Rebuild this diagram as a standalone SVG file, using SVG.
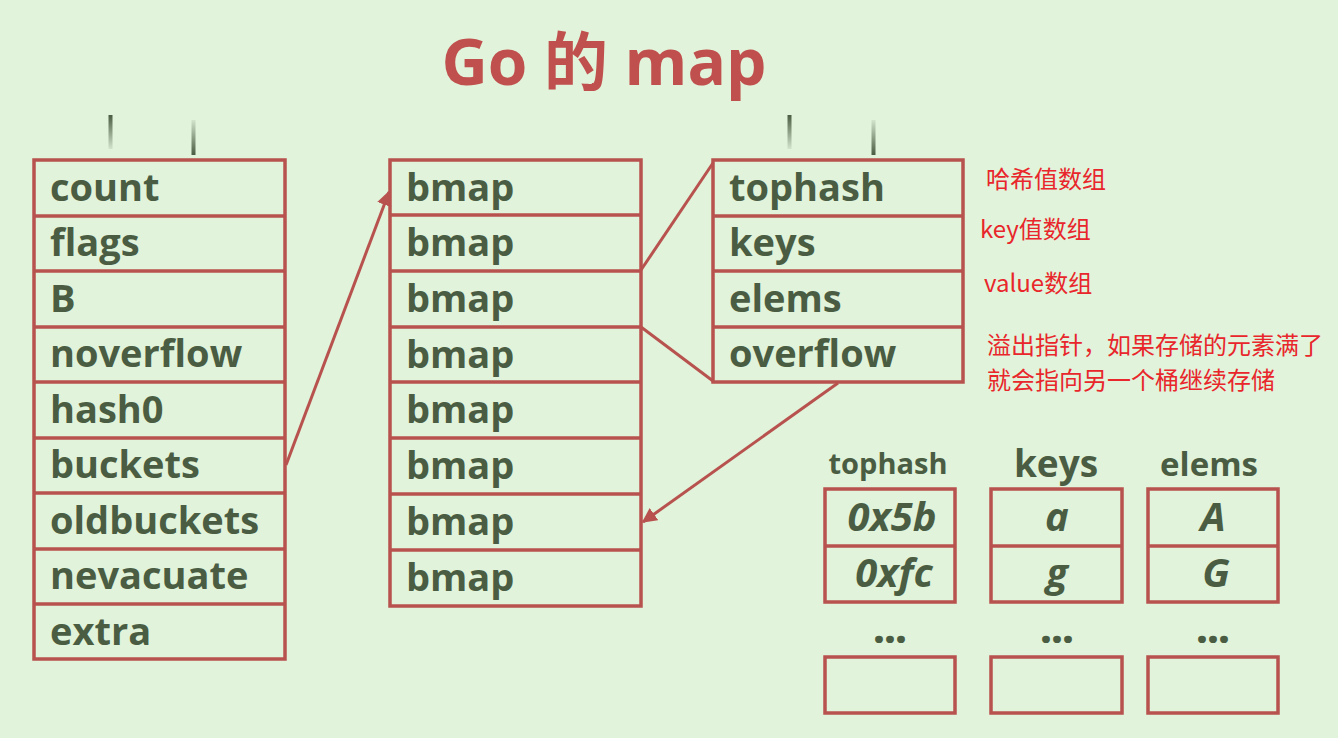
<svg xmlns="http://www.w3.org/2000/svg" width="1338" height="738" viewBox="0 0 1338 738">
<style>
.bg{fill:#e1f3da}
.box{fill:none;stroke:#b8524e;stroke-width:3.5}
.div{stroke:#b8524e;stroke-width:3.5}
.lbl{font-family:"Open Sans","Noto Sans",sans-serif;font-weight:700;font-size:38px;fill:#4a5d43}
.val{font-family:"Open Sans","Noto Sans",sans-serif;font-weight:700;font-style:italic;font-size:40px;fill:#4a5d43;text-anchor:middle}
.hdr{font-family:"Open Sans","Noto Sans",sans-serif;font-weight:700;fill:#4a5d43;text-anchor:middle}
.dots{font-family:"Open Sans","Noto Sans",sans-serif;font-weight:800;font-size:38px;fill:#4a5d43;text-anchor:middle}
.note{font-family:"Noto Sans CJK SC","Noto Sans",sans-serif;font-size:24px;fill:#e8262b}
.conn{stroke:#b8524e;stroke-width:3;fill:none}
</style>
<defs>
<marker id="arr" viewBox="0 0 10 10" refX="9" refY="5" markerWidth="5" markerHeight="5" orient="auto" markerUnits="strokeWidth">
<path d="M0,0 L10,5 L0,10 z" fill="#b8524e"/>
</marker>
<linearGradient id="fadeA" x1="0" y1="0" x2="0" y2="1"><stop offset="0" stop-color="#4a5d43"/><stop offset="1" stop-color="#4a5d43" stop-opacity="0.1"/></linearGradient>
<linearGradient id="fadeB" x1="0" y1="0" x2="0" y2="1"><stop offset="0" stop-color="#4a5d43" stop-opacity="0.1"/><stop offset="1" stop-color="#4a5d43"/></linearGradient>
</defs>
<rect class="bg" x="0" y="0" width="1338" height="738"/>

<g id="title">
<text x="604" y="85" text-anchor="middle" style="font-family:'Open Sans','Noto Sans CJK SC',sans-serif;font-weight:700;font-size:64px;fill:#c0504d">Go 的 map</text>
</g>

<g id="ticks">
<rect x="108.5" y="115" width="4" height="34" fill="url(#fadeA)"/>
<rect x="191.5" y="120" width="4" height="35" fill="url(#fadeB)"/>
<rect x="787.5" y="115" width="4" height="34" fill="url(#fadeA)"/>
<rect x="871.5" y="120" width="4" height="35" fill="url(#fadeB)"/>
</g>

<g id="hmap">
<rect class="box" x="34" y="160" width="251" height="499"/>
<line class="div" x1="34" y1="216" x2="285" y2="216"/>
<line class="div" x1="34" y1="271" x2="285" y2="271"/>
<line class="div" x1="34" y1="327" x2="285" y2="327"/>
<line class="div" x1="34" y1="382" x2="285" y2="382"/>
<line class="div" x1="34" y1="438" x2="285" y2="438"/>
<line class="div" x1="34" y1="493" x2="285" y2="493"/>
<line class="div" x1="34" y1="549" x2="285" y2="549"/>
<line class="div" x1="34" y1="604" x2="285" y2="604"/>
<text class="lbl" x="50" y="201">count</text>
<text class="lbl" x="50" y="256">flags</text>
<text class="lbl" x="50" y="312">B</text>
<text class="lbl" x="50" y="367">noverflow</text>
<text class="lbl" x="50" y="423">hash0</text>
<text class="lbl" x="50" y="478">buckets</text>
<text class="lbl" x="50" y="534">oldbuckets</text>
<text class="lbl" x="50" y="589">nevacuate</text>
<text class="lbl" x="50" y="645">extra</text>
</g>

<g id="buckets">
<rect class="box" x="390" y="160" width="251" height="446"/>
<line class="div" x1="390" y1="215" x2="641" y2="215"/>
<line class="div" x1="390" y1="271" x2="641" y2="271"/>
<line class="div" x1="390" y1="327" x2="641" y2="327"/>
<line class="div" x1="390" y1="382" x2="641" y2="382"/>
<line class="div" x1="390" y1="438" x2="641" y2="438"/>
<line class="div" x1="390" y1="494" x2="641" y2="494"/>
<line class="div" x1="390" y1="550" x2="641" y2="550"/>
<text class="lbl" x="406" y="201">bmap</text>
<text class="lbl" x="406" y="256">bmap</text>
<text class="lbl" x="406" y="312">bmap</text>
<text class="lbl" x="406" y="368">bmap</text>
<text class="lbl" x="406" y="423">bmap</text>
<text class="lbl" x="406" y="479">bmap</text>
<text class="lbl" x="406" y="535">bmap</text>
<text class="lbl" x="406" y="591">bmap</text>
</g>

<g id="bmap">
<rect class="box" x="713" y="160" width="250" height="222"/>
<line class="div" x1="713" y1="216" x2="963" y2="216"/>
<line class="div" x1="713" y1="271" x2="963" y2="271"/>
<line class="div" x1="713" y1="327" x2="963" y2="327"/>
<text class="lbl" x="729" y="201">tophash</text>
<text class="lbl" x="729" y="256">keys</text>
<text class="lbl" x="729" y="312">elems</text>
<text class="lbl" x="729" y="367">overflow</text>
</g>

<g id="notes">
<text class="note" x="986" y="188">哈希值数组</text>
<text class="note" x="980" y="238">key值数组</text>
<text class="note" x="984" y="292">value数组</text>
<text class="note" x="987" y="354">溢出指针，如果存储的元素满了</text>
<text class="note" x="987" y="389">就会指向另一个桶继续存储</text>
</g>

<g id="tophash-array">
<text class="hdr" x="888" y="474" style="font-size:29px">tophash</text>
<rect class="box" x="825" y="489" width="130" height="113"/>
<line class="div" x1="825" y1="546" x2="955" y2="546"/>
<text class="val" x="892" y="531">0x5b</text>
<text class="val" x="894" y="587">0xfc</text>
<text class="dots" x="890" y="643">...</text>
<rect class="box" x="825" y="657" width="130" height="56"/>
</g>

<g id="keys-array">
<text class="hdr" x="1056" y="477" style="font-size:37px">keys</text>
<rect class="box" x="991" y="489" width="131" height="113"/>
<line class="div" x1="991" y1="546" x2="1122" y2="546"/>
<text class="val" x="1057" y="531">a</text>
<text class="val" x="1057" y="587">g</text>
<text class="dots" x="1057" y="643">...</text>
<rect class="box" x="991" y="657" width="131" height="56"/>
</g>

<g id="elems-array">
<text class="hdr" x="1209" y="476" style="font-size:33px">elems</text>
<rect class="box" x="1148" y="489" width="130" height="113"/>
<line class="div" x1="1148" y1="546" x2="1278" y2="546"/>
<text class="val" x="1213" y="531">A</text>
<text class="val" x="1216" y="587">G</text>
<text class="dots" x="1213" y="643">...</text>
<rect class="box" x="1148" y="657" width="130" height="56"/>
</g>

<g id="connectors">
<line class="conn" x1="286" y1="465" x2="389" y2="192" marker-end="url(#arr)"/>
<line class="conn" x1="641" y1="270" x2="713" y2="163"/>
<line class="conn" x1="641" y1="327" x2="713" y2="381"/>
<line class="conn" x1="838" y1="383" x2="643" y2="522" marker-end="url(#arr)"/>
</g>
</svg>
